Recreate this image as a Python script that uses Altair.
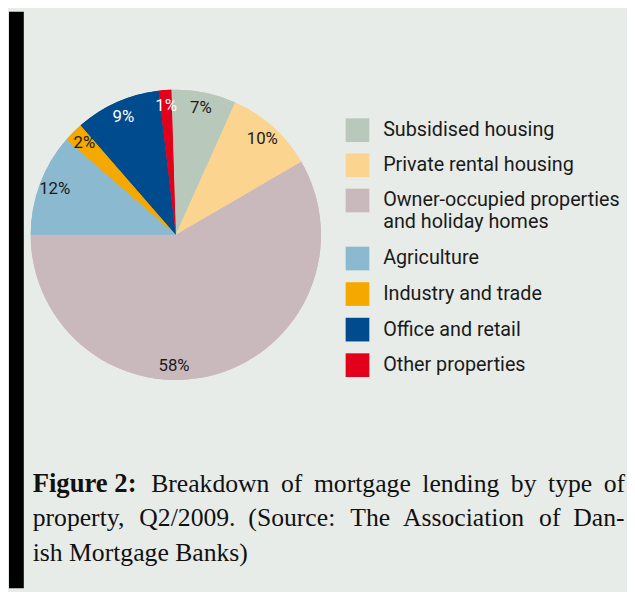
import math
import altair as alt
import pandas as pd

categories = [
    "Subsidised housing",
    "Private rental housing",
    "Owner-occupied properties and holiday homes",
    "Agriculture",
    "Industry and trade",
    "Office and retail",
    "Other properties",
]
values = [7.2, 9.9, 58.4, 11.4, 2.2, 9.5, 1.4]
labels = ["7%", "10%", "58%", "12%", "2%", "9%", "1%"]
colors = ["#b8c9bb", "#fbd490", "#c9b9bc", "#8bb9d0", "#f5a800", "#004b8d", "#e2001a"]
label_colors = ["#1a1a1a", "#1a1a1a", "#1a1a1a", "#1a1a1a", "#1a1a1a", "#ffffff", "#ffffff"]

legend_names_1 = categories[:3]
legend_names_2 = categories[3:]
owner_line1 = "Owner-occupied properties"
owner_line2 = "and holiday homes"

caption_bold = "Figure 2:"
caption_lines = [
    "Breakdown of mortgage lending by type of",
    "property, Q2/2009. (Source: The Association of Dan-",
    "ish Mortgage Banks)",
]

df = pd.DataFrame({
    "category": categories,
    "value": values,
    "label": labels,
    "lc": label_colors,
    "order": list(range(len(categories))),
})

W, H = 627, 584
CX, CY, R = 170, 226, 147
start = -0.031
FONT = "Roboto"
LEG_SIZE = 20

theta = alt.Theta("value:Q", stack=True,
                  scale=alt.Scale(range=[start, 2 * math.pi + start]))
order = alt.Order("order:Q")
cscale = alt.Scale(domain=categories, range=colors)

base = alt.Chart(df)


def legend(vals, y, pad, expr=None):
    kw = dict(
        title=None,
        orient="none",
        legendX=342,
        legendY=y,
        values=vals,
        symbolType="square",
        symbolSize=576,
        symbolStrokeWidth=0,
        symbolOpacity=1,
        labelFont=FONT,
        labelFontSize=LEG_SIZE,
        labelColor="#1a1a1a",
        labelOffset=14,
        labelLimit=400,
        rowPadding=pad,
    )
    if expr:
        kw["labelExpr"] = expr
    return alt.Legend(**kw)


pie1 = base.mark_arc(outerRadius=R).encode(
    theta=theta, order=order, x=alt.value(CX), y=alt.value(CY),
    color=alt.Color("category:N", sort=categories, scale=cscale,
                    legend=legend(legend_names_1, 108, 11.6,
                                  "datum.label == '%s' ? '%s' : datum.label" % (categories[2], owner_line1))),
)
pie2 = base.mark_arc(outerRadius=R).encode(
    theta=theta, order=order, x=alt.value(CX), y=alt.value(CY),
    color=alt.Color("category:N", sort=categories, scale=cscale,
                    legend=legend(legend_names_2, 238, 12)),
)

text_main = base.transform_calculate(
    t="datum.category == '%s' ? '' : datum.label" % categories[2]
).mark_text(radius=131, font=FONT, fontSize=17, align="center", baseline="middle").encode(
    theta=theta, order=order, x=alt.value(CX), y=alt.value(CY),
    text="t:N",
    color=alt.Color("lc:N", scale=None, legend=None),
)
text_owner = base.transform_calculate(
    t="datum.category == '%s' ? datum.label : ''" % categories[2]
).mark_text(radius=133, thetaOffset=0.277, font=FONT, fontSize=17, align="center", baseline="middle").encode(
    theta=theta, order=order, x=alt.value(CX), y=alt.value(CY),
    text="t:N",
    color=alt.Color("lc:N", scale=None, legend=None),
)

dummy = alt.Chart(pd.DataFrame({"a": [0]}))
owner2 = dummy.mark_text(font=FONT, fontSize=LEG_SIZE, align="left", baseline="middle",
                         color="#1a1a1a").encode(
    x=alt.value(380), y=alt.value(213), text=alt.value(owner_line2))

bar = dummy.mark_rect(color="#000000").encode(
    x=alt.value(1), x2=alt.value(16), y=alt.value(0), y2=alt.value(H)
)

cap_font = "Liberation Serif"
cap_size = 26


def spread(txt, seps):
    words = txt.split(" ")
    out = words[0]
    for i, w in enumerate(words[1:]):
        out += seps[i % len(seps)] + w
    return out


line1 = spread(caption_lines[0], [" \u2009"])
line2 = spread(caption_lines[1], ["\u2002\u200a", "\u2002"])
line3 = caption_lines[2]


def cap(txt, x, y, bold=False, size=cap_size):
    kw = dict(font=cap_font, fontSize=size, align="left", baseline="alphabetic", color="#111111")
    if bold:
        kw["fontWeight"] = "bold"
    return dummy.mark_text(**kw).encode(x=alt.value(x), y=alt.value(y), text=alt.value(txt))


caps = [
    cap(caption_bold, 25, 486, bold=True, size=27),
    cap(line1, 145, 486),
    cap(line2, 25, 521),
    cap(line3, 25, 556),
]

chart = alt.layer(pie1, pie2, text_main, text_owner, owner2, bar, *caps).resolve_scale(
    color="independent"
).properties(
    width=W, height=H,
    autosize=alt.AutoSizeParams(type="none"),
    padding=0,
    background="#e8ece9",
).configure_view(stroke=None)

chart.save("out.html", embed_options={"renderer": "svg", "actions": False})
